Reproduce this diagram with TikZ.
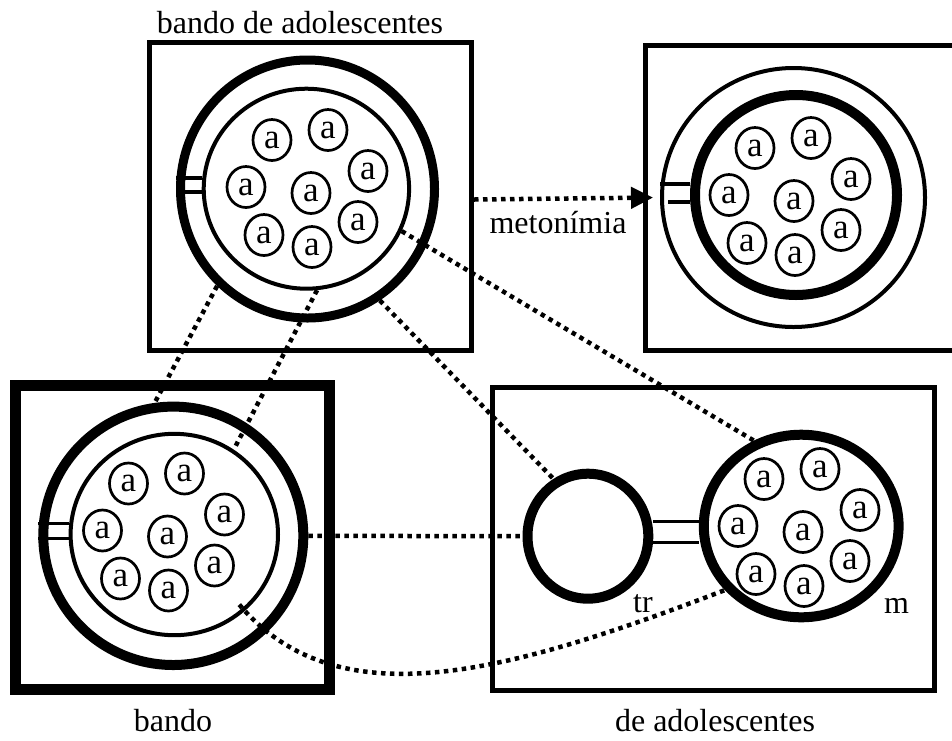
\documentclass[tikz,border=0pt]{standalone}
\usepackage{fontspec}
\setmainfont{Liberation Serif}
\usetikzlibrary{shapes.geometric,arrows.meta}
\begin{document}
\begin{tikzpicture}[x=1pt,y=-1pt,
  every node/.style={font=\fontsize{32}{38}\selectfont},
  ring/.style={draw,ellipse,inner sep=0pt},
  acirc/.style={draw,ellipse,inner sep=0pt,minimum width=38pt,minimum height=41pt,line width=2.7pt,font=\fontsize{35}{40}\selectfont},
  box/.style={draw,rectangle,inner sep=0pt},
  dots/.style={line width=4.5pt,dash pattern=on 4.5pt off 4.5pt},
  dbl/.style={line width=3.5pt},
  lbl/.style={anchor=base,inner sep=0pt},
  agroup/.pic={
    \node[acirc] (-a1) at (-35,-48) {a};
    \node[acirc] (-a2) at (21,-58) {a};
    \node[acirc] (-a3) at (61,-17) {a};
    \node[acirc] (-a4) at (-61,-1) {a};
    \node[acirc] (-a5) at (4,5) {a};
    \node[acirc] (-a6) at (51,34) {a};
    \node[acirc] (-a7) at (-43,47) {a};
    \node[acirc] (-a8) at (5,59) {a};
  }]
\useasboundingbox (0,0) rectangle (952,740);
\clip (0,0) rectangle (952,740);

% boxes
\node[box,line width=5pt,minimum width=322.5pt,minimum height=307.5pt] (tlbox) at (310.25,196.25) {};
\node[box,line width=5pt,minimum width=312.5pt,minimum height=304.5pt] (trbox) at (801.75,197.75) {};
\node[box,line width=11pt,minimum width=314pt,minimum height=304pt] (blbox) at (172,537) {};
\node[box,line width=5pt,minimum width=441.5pt,minimum height=303.5pt] (brbox) at (713.25,538.75) {};

% rings
\node[ring,line width=9pt,minimum width=254pt,minimum height=258pt] (tlout) at (307.5,189) {};
\node[ring,line width=4pt,minimum width=205.4pt,minimum height=200pt] (tlin) at (306.4,188.7) {};
\node[ring,line width=4pt,minimum width=263pt,minimum height=259pt] (trout) at (793.5,197.5) {};
\node[ring,line width=10pt,minimum width=202pt,minimum height=200pt] (trin) at (796,195) {};
\node[ring,line width=10pt,minimum width=260pt,minimum height=258.4pt] (blout) at (173.3,535.8) {};
\node[ring,line width=4pt,minimum width=207.4pt,minimum height=201.4pt] (blin) at (174.3,534.5) {};
\node[ring,line width=10pt,minimum width=120.8pt,minimum height=125pt] (tr) at (587.9,536.2) {};
\node[ring,line width=10pt,minimum width=194.8pt,minimum height=182.6pt] (m) at (801.2,526) {};

% groups of a
\pic (gtl) at (307,188) {agroup};
\pic (gtr) at (790,196) {agroup};
\pic (gbl) at (163.5,531.5) {agroup};
\pic (gm) at (799,527) {agroup};

% double lines
\draw[dbl] (tlout.west |- 0,178) -- (tlin.west |- 0,178);
\draw[dbl] (tlout.west |- 0,192) -- (tlin.west |- 0,192);
\draw[dbl] (trout.west |- 0,184) -- (trin.west |- 0,184);
\draw[dbl] ([xshift=8pt]trout.west |- 0,202) -- (trin.west |- 0,202);
\draw[dbl] (blout.west |- 0,523.3) -- (blin.west |- 0,523.3);
\draw[dbl] (blout.west |- 0,538.3) -- (blin.west |- 0,538.3);
\draw[dbl] (tr.east |- 0,521.7) -- (m.west |- 0,521.7);
\draw[dbl] (tr.east |- 0,542.7) -- (m.west |- 0,542.7);

% connectors
\draw[dots,-{Triangle[length=22pt,width=21pt]},shorten >=7pt] ([yshift=-3.25pt]tlbox.east) -- (trout.west);
\draw[dots] (tlout.227) -- (blout.98.4);
\draw[dots] (tlin.276.5) -- (blin.55.6);
\draw[dots] (tlout.303.6) -- (tr.121.3);
\draw[dots] (tlin.336.9) -- (m.119);
\draw[dots] (blout.east) -- (tr.west);
\draw[dots] ([shift={(-6,-6)}]blin.313) .. controls +(97,114) and +(-224,86) .. (m.220);

% labels
\node[lbl] (ttop) at (300,33) {bando de adolescentes};
\node[lbl] (tmet) at (558,233) {metonímia};
\node[lbl] (tbando) at (173,731) {bando};
\node[lbl] (tdeadol) at (715,731) {de adolescentes};
\node[lbl] (ttr) at (643,612) {tr};
\node[lbl] (tm) at (896.5,613) {m};
\end{tikzpicture}
\end{document}
